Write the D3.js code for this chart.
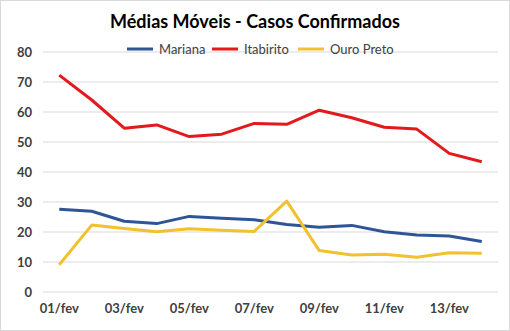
<!DOCTYPE html>
<html><head><meta charset="utf-8">
<script src="https://cdn.jsdelivr.net/npm/d3@7"></script>
<style>body{margin:0;background:#fff}</style>
</head><body><svg id="c" width="510" height="331"></svg>
<script>
const categories = ["01/fev","02/fev","03/fev","04/fev","05/fev","06/fev","07/fev","08/fev","09/fev","10/fev","11/fev","12/fev","13/fev","14/fev"];
const mariana   = [27.6,26.9,23.6,22.8,25.2,24.6,24.1,22.5,21.6,22.2,20.1,19.0,18.7,16.8];
const itabirito = [72.3,64.0,54.6,55.7,51.8,52.6,56.2,55.9,60.6,58.1,54.9,54.3,46.2,43.4];
const ouroPreto = [9.1,22.3,21.2,20.1,21.1,20.6,20.2,30.3,13.8,12.3,12.6,11.6,13.1,12.9];
const yTicks = [0,10,20,30,40,50,60,70,80];
const seriesNames = ["Mariana","Itabirito","Ouro Preto"];
const seriesColors = ["#2F5597","#E3191C","#F2C12E"];
const seriesData = [mariana, itabirito, ouroPreto];

const svg = d3.select("#c");
const font = "Lato, 'Open Sans', sans-serif";
svg.append("rect").attr("x",0.5).attr("y",0.5).attr("width",509).attr("height",330)
  .attr("fill","#fff").attr("stroke","#d9d9d9");

const x = d3.scaleBand().domain(categories).range([43,498]);
const y = d3.scaleLinear().domain([0,80]).range([292,52]);

// gridlines
svg.append("g").selectAll("line").data(yTicks).join("line")
  .attr("x1",43).attr("x2",498).attr("y1",d=>y(d)).attr("y2",d=>y(d))
  .attr("stroke","#d9d9d9").attr("stroke-width",1);

// y axis labels
const ya = svg.append("g").attr("transform","translate(43,0)")
  .call(d3.axisLeft(y).tickValues(yTicks).tickSize(0).tickPadding(11));
ya.select(".domain").remove();
ya.selectAll("text").attr("font-family",font).attr("font-size",13).attr("font-weight","bold").attr("fill","#404040");

// x axis labels
const xa = svg.append("g").attr("transform","translate(0,292)")
  .call(d3.axisBottom(x).tickValues(categories.filter((d,i)=>i%2===0)).tickSize(0).tickPadding(12));
xa.select(".domain").remove();
xa.selectAll("text").attr("font-family",font).attr("font-size",13).attr("font-weight","bold").attr("fill","#404040");

// lines
const line = d3.line().x((d,i)=>x(categories[i])+x.bandwidth()/2).y(d=>y(d));
seriesData.forEach((s,k)=>{
  svg.append("path").datum(s).attr("d",line).attr("fill","none")
    .attr("stroke",seriesColors[k]).attr("stroke-width",3).attr("stroke-linejoin","round");
});

// title
svg.append("text").attr("x",255).attr("y",28).attr("text-anchor","middle")
  .attr("font-family",font).attr("font-size",18).attr("font-weight","bold").attr("fill","#000")
  .text("Médias Móveis - Casos Confirmados");

// legend
const legendX = [127,212,298];
seriesNames.forEach((n,k)=>{
  const g = svg.append("g").attr("transform",`translate(${legendX[k]},49)`);
  g.append("line").attr("x1",0).attr("x2",26).attr("y1",0).attr("y2",0)
    .attr("stroke",seriesColors[k]).attr("stroke-width",3);
  g.append("text").attr("x",32).attr("y",4.5).attr("font-family",font).attr("font-size",13)
    .attr("fill","#404040").text(n);
});
</script></body></html>
